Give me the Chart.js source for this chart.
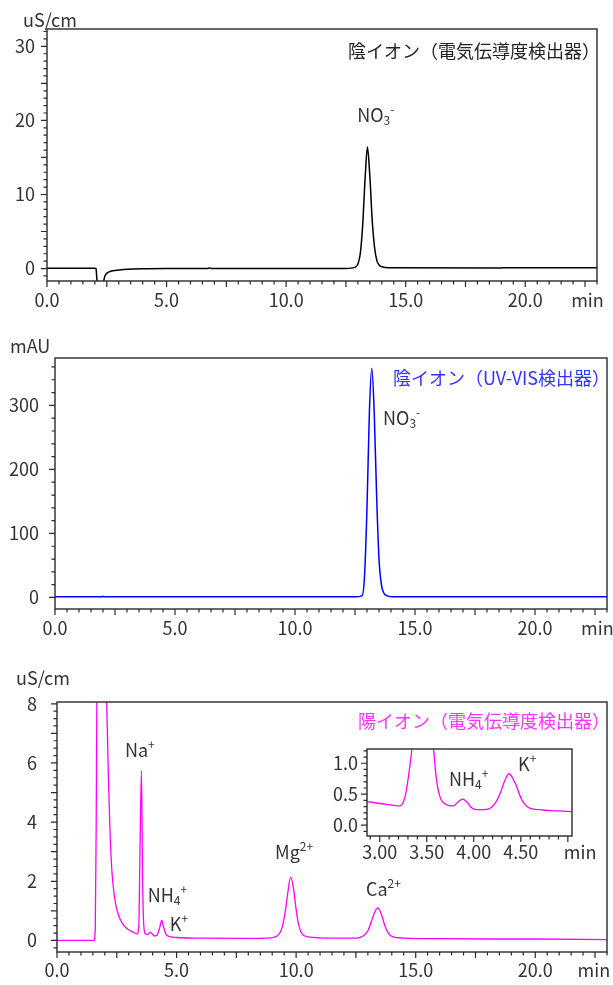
<!DOCTYPE html>
<html lang="ja">
<head>
<meta charset="utf-8">
<title>イオンクロマトグラム</title>
<script src="https://cdn.jsdelivr.net/npm/chart.js@4.4.1/dist/chart.umd.min.js"></script>
<style>
  html, body { margin: 0; padding: 0; background: #fff; }
  #wrap { position: relative; width: 613px; height: 985px; overflow: hidden; }
  canvas { position: absolute; }
</style>
</head>
<body>
<div id="wrap">
  <canvas id="anionCd" width="613" height="320" style="left:0;top:0"></canvas>
  <canvas id="anionUv" width="613" height="320" style="left:0;top:330px"></canvas>
  <canvas id="cationCd" width="613" height="325" style="left:0;top:660px"></canvas>
  <canvas id="cationZoom" width="283" height="135" style="left:330px;top:740px"></canvas>
</div>
<script>
const FONT = '"Noto Sans CJK JP", "Open Sans", sans-serif';
const TXT = '#333';

// anion, conductivity detector (uS/cm vs min)
const anionCdTime   = [0, 2.0, 2.05, 2.08, 2.12, 2.3, 2.37, 2.42, 2.48, 2.6, 2.76, 3.0, 3.2, 3.6, 4.2, 5.0, 6.7, 6.8, 6.9,
                       12.5, 12.9, 13.0, 13.1, 13.2, 13.3, 13.4, 13.5, 13.6, 13.7, 13.8, 13.9, 14.0, 14.3, 19.0, 19.1, 23];
const anionCdSignal = [0.05, 0.05, 0.0, -1.2, -3, -3, -1.7, -1.05, -0.7, -0.45, -0.3, -0.2, -0.13, -0.05, -0.02, 0.0, 0.0, 0.06, 0.0,
                       0.02, 0.2, 0.6, 2.0, 5.8, 12.0, 16.4, 12.5, 6.5, 2.8, 1.0, 0.45, 0.25, 0.1, 0.08, 0.12, 0.12];
const anionCdXLabels = [0, 5, 10, 15, 20];
const anionCdYLabels = [0, 10, 20, 30];

// anion, UV-VIS detector (mAU)
const anionUvTime   = [0, 1.95, 2.0, 2.05, 12.5, 12.8, 12.9, 13.0, 13.1, 13.2, 13.3, 13.4, 13.5, 13.6, 13.7, 13.85, 14.1, 23];
const anionUvSignal = [1, 1, 1.8, 1, 1, 3, 35, 140, 290, 358, 290, 160, 60, 20, 7, 2.5, 1, 1];
const anionUvYLabels = [0, 100, 200, 300];

// cation, conductivity detector
const cationTime   = [0, 1.55, 1.6, 1.64, 1.68, 1.8, 2.0, 2.08, 2.15, 2.22, 2.3, 2.4, 2.5, 2.65, 2.8, 3.0, 3.2, 3.35,
                      3.42, 3.47, 3.53, 3.58, 3.63, 3.7, 3.8, 3.9, 4.0, 4.1, 4.2, 4.3, 4.38, 4.46, 4.55, 4.7, 5.0, 6.0, 8.0,
                      8.8, 9.2, 9.4, 9.55, 9.65, 9.77, 9.9, 10.0, 10.1, 10.25, 10.5, 11.0,
                      12.5, 12.8, 13.0, 13.15, 13.3, 13.41, 13.55, 13.7, 13.85, 14.05, 14.5, 16, 18, 20, 23];
const cationSignal = [0.0, 0.0, 0.4, 4, 10, 14, 12, 8, 5.5, 3.6, 2.3, 1.5, 1.05, 0.7, 0.5, 0.36, 0.27, 0.22,
                      0.5, 3.0, 5.74, 2.0, 0.5, 0.22, 0.2, 0.28, 0.2, 0.15, 0.2, 0.45, 0.68, 0.45, 0.22, 0.13, 0.1, 0.08, 0.07,
                      0.08, 0.15, 0.4, 1.0, 1.6, 2.14, 1.7, 1.05, 0.55, 0.22, 0.12, 0.09,
                      0.08, 0.15, 0.33, 0.65, 0.98, 1.1, 0.92, 0.52, 0.25, 0.12, 0.08, 0.06, 0.05, 0.05, 0.03];
const cationYLabels = [0, 2, 4, 6, 8];

// cation, enlarged 3-5 min
const zoomTime   = [2.87, 3.0, 3.1, 3.2, 3.27, 3.32, 3.345, 3.4, 3.45, 3.5, 3.57, 3.6, 3.64, 3.71, 3.78, 3.83, 3.88, 3.93,
                    3.97, 4.03, 4.1, 4.17, 4.23, 4.28, 4.33, 4.375, 4.44, 4.51, 4.6, 4.7, 4.78, 4.9, 5.04];
const zoomSignal = [0.38, 0.35, 0.33, 0.31, 0.46, 0.95, 1.3, 3, 4, 3, 1.3, 0.78, 0.46, 0.33, 0.31, 0.37, 0.42, 0.37,
                    0.29, 0.25, 0.25, 0.27, 0.36, 0.51, 0.72, 0.83, 0.68, 0.41, 0.27, 0.25, 0.24, 0.23, 0.22];
const zoomXLabels = [3.0, 3.5, 4.0, 4.5];
const zoomYLabels = [0, 0.5, 1.0];

const mainXLabels = anionCdXLabels;

// peak names: '_' subscript, '^' superscript
const anionCdPeaks = [{t: 12.97, v: 20.6, name: ['NO', '_3', '^-']}];
const anionUvPeaks = [{t: 13.67, v: 279, name: ['NO', '_3', '^-']}];
const cationPeaks = [
  {t: 2.84, v: 6.42, name: ['Na', '^+']},
  {t: 3.79, v: 1.49, name: ['NH', '_4', '^+']},
  {t: 4.72, v: 0.53, name: ['K', '^+']},
  {t: 9.12, v: 2.96, name: ['Mg', '^2+']},
  {t: 12.92, v: 1.71, name: ['Ca', '^2+']}
];
const zoomPeaks = [
  {t: 3.736, v: 0.73, name: ['NH', '_4', '^+']},
  {t: 4.47, v: 0.97, name: ['K', '^+']}
];

function hasLabel(list, v) {
  return list.some(l => Math.abs(l - v) < 1e-6);
}

function isMult(v, m) {
  const r = v / m;
  return Math.abs(r - Math.round(r)) < 1e-6;
}

function drawChem(ctx, x, y, segs) {
  let cx = x;
  ctx.fillStyle = TXT;
  ctx.textAlign = 'left';
  ctx.textBaseline = 'alphabetic';
  segs.forEach(s => {
    let txt = s, size = 18, dy = 0;
    if (s[0] === '_') { txt = s.slice(1); size = 12; dy = 3; }
    else if (s[0] === '^') { txt = s.slice(1); size = 12; dy = -8; }
    ctx.font = size + 'px ' + FONT;
    ctx.fillText(txt, cx, y + 6 + dy);
    cx += ctx.measureText(txt).width;
  });
}

function framePlugin(id, c) {
  return {
    id: 'frame_' + id,
    afterDatasetsDraw(chart) {
      const {ctx, chartArea: a, scales: {x, y}} = chart;
      ctx.save();
      ctx.strokeStyle = '#2a2a2a';
      ctx.lineWidth = 1.4;
      ctx.strokeRect(a.left, a.top, a.right - a.left, a.bottom - a.top);

      ctx.lineWidth = 1.2;
      ctx.beginPath();
      x.ticks.forEach(t => {
        const p = x.getPixelForValue(t.value);
        const len = isMult(t.value, c.xMajor) ? 6 : 3.5;
        ctx.moveTo(p, a.bottom);
        ctx.lineTo(p, a.bottom + len);
      });
      y.ticks.forEach(t => {
        const p = y.getPixelForValue(t.value);
        const len = isMult(t.value, c.yMajor) ? 6 : 3.5;
        ctx.moveTo(a.left, p);
        ctx.lineTo(a.left - len, p);
      });
      ctx.stroke();

      ctx.font = '18px ' + FONT;
      ctx.fillStyle = TXT;
      ctx.textBaseline = 'middle';
      ctx.textAlign = 'center';
      ctx.fillText('min', x.getPixelForValue(c.minAt), a.bottom + c.xLabelOffset);
      if (c.unit) {
        ctx.textAlign = 'left';
        ctx.fillText(c.unit, c.unitPos[0], c.unitPos[1]);
      }
      if (c.title) {
        ctx.fillStyle = c.titleColor;
        ctx.textAlign = 'right';
        ctx.fillText(c.title, a.right + 3, a.top + c.titleDy);
      }
      c.peaks.forEach(pk => drawChem(ctx, x.getPixelForValue(pk.t), y.getPixelForValue(pk.v), pk.name));
      ctx.restore();
    }
  };
}

function makeChart(id, c) {
  const canvas = document.getElementById(id);
  const W = canvas.width, H = canvas.height;
  return new Chart(canvas, {
    type: 'line',
    data: {
      datasets: [{
        data: c.time.map((t, i) => ({x: t, y: c.signal[i]})),
        borderColor: c.color,
        borderWidth: c.lineWidth,
        pointRadius: 0,
        cubicInterpolationMode: 'monotone',
        fill: false
      }]
    },
    options: {
      responsive: false,
      animation: false,
      devicePixelRatio: 1,
      events: [],
      layout: { padding: { top: c.area.top, right: W - c.area.right, left: 0, bottom: 0 } },
      plugins: { legend: { display: false }, tooltip: { enabled: false } },
      scales: {
        x: {
          type: 'linear',
          min: c.xMin, max: c.xMax,
          grid: { display: false, drawTicks: false },
          border: { display: false },
          ticks: {
            stepSize: c.xStep, autoSkip: false, maxRotation: 0, includeBounds: false,
            padding: c.xLabelOffset - 9, color: TXT,
            font: { family: FONT, size: 18, lineHeight: 1 },
            callback: v => hasLabel(c.xLabels, v) ? v.toFixed(c.xDec) : ''
          },
          afterFit: s => { s.height = H - c.area.bottom; s.paddingLeft = 0; s.paddingRight = 0; }
        },
        y: {
          type: 'linear',
          min: c.yMin, max: c.yMax,
          grid: { display: false, drawTicks: false },
          border: { display: false },
          ticks: {
            stepSize: c.yStep, autoSkip: false, includeBounds: false,
            padding: c.yPad, color: TXT,
            font: { family: FONT, size: 18, lineHeight: 1 },
            callback: v => hasLabel(c.yLabels, v) ? v.toFixed(c.yDec) : ''
          },
          afterFit: s => { s.width = c.area.left; s.paddingTop = 0; s.paddingBottom = 0; }
        }
      }
    },
    plugins: [framePlugin(id, c)]
  });
}

makeChart('anionCd', {
  time: anionCdTime, signal: anionCdSignal, color: '#000', lineWidth: 1.5,
  area: { left: 47, top: 29, right: 597, bottom: 281 },
  xMin: 0, xMax: 23, xStep: 0.5, xMajor: 2.5, xLabels: mainXLabels, xDec: 1, xLabelOffset: 19,
  yMin: -1.68, yMax: 32.34, yStep: 1, yMajor: 5, yLabels: anionCdYLabels, yDec: 0, yPad: 12,
  minAt: 22.6, unit: 'uS/cm', unitPos: [23, 20],
  title: '陰イオン（電気伝導度検出器）', titleColor: '#222', titleDy: 22.5,
  peaks: anionCdPeaks
});

makeChart('anionUv', {
  time: anionUvTime, signal: anionUvSignal, color: '#0000ff', lineWidth: 1.5,
  area: { left: 55, top: 28, right: 607, bottom: 279 },
  xMin: 0, xMax: 23, xStep: 0.5, xMajor: 2.5, xLabels: mainXLabels, xDec: 1, xLabelOffset: 19,
  yMin: -18, yMax: 374, yStep: 20, yMajor: 100, yLabels: anionUvYLabels, yDec: 0, yPad: 16,
  minAt: 22.6, unit: 'mAU', unitPos: [10, 16],
  title: '陰イオン（UV-VIS検出器）', titleColor: '#3333ff', titleDy: 20,
  peaks: anionUvPeaks
});

makeChart('cationCd', {
  time: cationTime, signal: cationSignal, color: '#ff00ff', lineWidth: 1.3,
  area: { left: 57, top: 42, right: 607, bottom: 292 },
  xMin: 0, xMax: 23, xStep: 0.5, xMajor: 2.5, xLabels: mainXLabels, xDec: 1, xLabelOffset: 18,
  yMin: -0.39, yMax: 8.06, yStep: 0.25, yMajor: 1, yLabels: cationYLabels, yDec: 0, yPad: 20,
  minAt: 22.45, unit: 'uS/cm', unitPos: [16, 18],
  title: '陽イオン（電気伝導度検出器）', titleColor: '#ff33ff', titleDy: 19,
  peaks: cationPeaks
});

makeChart('cationZoom', {
  time: zoomTime, signal: zoomSignal, color: '#ff00ff', lineWidth: 1.3,
  area: { left: 37, top: 9, right: 242, bottom: 96 },
  xMin: 2.865, xMax: 5.044, xStep: 0.1, xMajor: 0.5, xLabels: zoomXLabels, xDec: 2, xLabelOffset: 16,
  yMin: -0.175, yMax: 1.23, yStep: 0.1, yMajor: 0.5, yLabels: zoomYLabels, yDec: 1, yPad: 9,
  minAt: 5.13, unit: null, title: null,
  peaks: zoomPeaks
});
</script>
</body>
</html>
